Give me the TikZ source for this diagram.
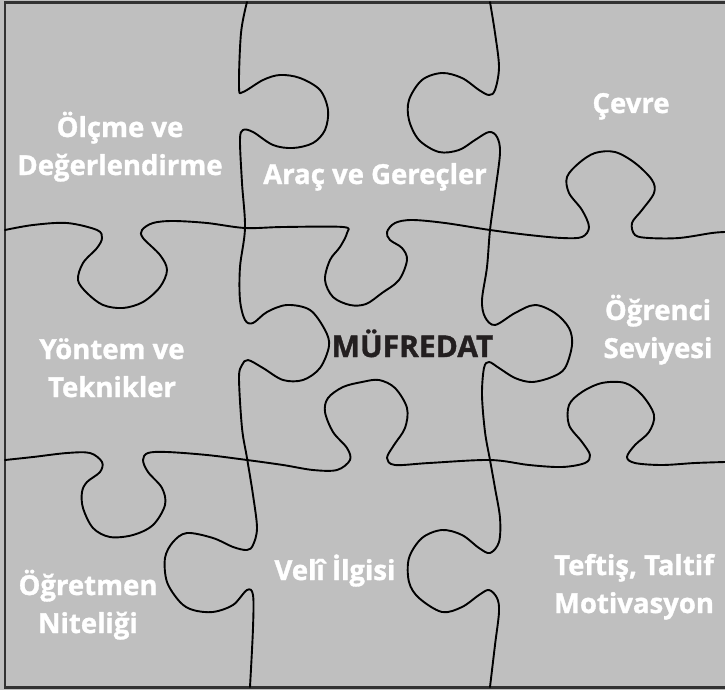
\documentclass[tikz,border=0pt]{standalone}
\usepackage{fontspec}
\setmainfont{Open Sans}[BoldFeatures={FakeBold=1.2}]
\begin{document}
\begin{tikzpicture}[x=1pt,y=-1pt,
  puzzle/.style={draw=black,line width=1.9pt,line join=round,line cap=round},
  label/.style={text=white,font=\bfseries\fontsize{27.5}{38}\selectfont,align=center,anchor=base,inner sep=0pt},
  core/.style={text=coretext,font=\bfseries\fontsize{30}{38}\selectfont,anchor=base,inner sep=0pt}]
\definecolor{bgray}{RGB}{191,191,191}
\definecolor{frame}{RGB}{50,50,50}
\definecolor{coretext}{RGB}{35,31,32}
\useasboundingbox (0,0) rectangle (725,690);
\fill[bgray] (0,0) rectangle (725,690);
\draw[frame,line width=2.2pt] (5,2.5) rectangle (726,687.5);
% left vertical
\draw[puzzle] plot[smooth,tension=0.55] coordinates {(247,2) (241,33) (239,87) (243,92) (263,80) (280,75) (300,78) (320,90) (328,110) (325,130) (313,143) (293,148) (273,145) (253,132) (243,130) (240,140) (242,183) (245,228) (240,267) (240,300) (245,320) (253,323) (267,312) (287,305) (310,310) (325,330) (329,346) (320,368) (303,380) (283,380) (263,368) (248,360) (242,365) (239,378) (242,428) (247,458) (253,495) (257,528) (253,545) (247,550) (233,547) (213,538) (187,533) (173,542) (165,558) (167,582) (180,602) (193,610) (213,612) (233,605) (247,590) (253,595) (253,628) (250,687)};
% right vertical
\draw[puzzle] plot[smooth,tension=0.55] coordinates {(490,2) (495,33) (499,67) (495,90) (489,95) (479,90) (462,78) (442,73) (422,80) (409,100) (409,120) (419,140) (439,152) (459,150) (475,140) (489,132) (497,137) (500,153) (495,193) (490,230) (487,267) (482,300) (485,317) (495,325) (515,313) (535,305) (555,313) (569,328) (572,345) (565,368) (552,377) (532,382) (515,378) (499,368) (489,362) (484,368) (482,395) (485,432) (490,460) (495,488) (500,518) (499,542) (490,553) (479,548) (462,535) (442,530) (422,538) (409,558) (409,582) (419,598) (442,612) (462,607) (479,595) (489,590) (497,598) (499,612) (495,645) (490,687)};
% upper horizontal
\draw[puzzle] plot[smooth,tension=0.55] coordinates {(5,230) (33,225) (67,223) (97,230) (102,238) (97,248) (83,263) (78,280) (87,293) (103,305) (123,308) (143,302) (160,287) (167,270) (160,255) (143,238) (142,230) (153,223) (173,221) (207,223) (245,228) (283,227) (343,227) (347,233) (340,247) (330,260) (325,280) (333,297) (350,305) (366,304) (382,293) (399,280) (407,260) (402,248) (390,240) (387,232) (395,223) (412,220) (445,223) (490,230) (529,235) (562,238) (582,237) (589,227) (582,210) (569,193) (567,177) (579,163) (595,153) (615,152) (635,163) (652,180) (654,193) (642,210) (632,223) (635,235) (649,238) (679,238) (712,233) (725,232)};
% lower horizontal
\draw[puzzle] plot[smooth,tension=0.55] coordinates {(5,460) (33,457) (67,453) (90,453) (102,462) (100,472) (87,482) (82,492) (83,508) (93,528) (110,537) (133,535) (153,525) (165,505) (162,488) (148,472) (143,460) (148,453) (167,452) (207,455) (247,460) (283,465) (313,470) (337,470) (350,460) (347,448) (333,432) (325,412) (328,398) (343,387) (362,382) (379,380) (395,388) (407,408) (405,428) (394,445) (387,458) (395,465) (429,463) (490,460) (529,465) (562,467) (585,463) (590,455) (582,442) (569,425) (569,405) (582,392) (602,383) (625,383) (642,395) (654,415) (649,432) (635,445) (627,457) (635,463) (662,465) (695,463) (725,462)};
% labels
\node[label] (olcme) at (120,175) {Ölçme ve\\Değerlendirme};
\node[label] (arac) at (375,184) {Araç ve Gereçler};
\node[label] (cevre) at (631,113) {Çevre};
\node[label] (ogrenci) at (658,358) {Öğrenci\\Seviyesi};
\node[core] (mufredat) at (412.5,357) {MÜFREDAT};
\node[label] (yontem) at (112,397) {Yöntem ve\\Teknikler};
\node[label] (ogretmen) at (88,633) {Öğretmen\\Niteliği};
\node[label] (veli) at (335,580) {Velî İlgisi};
\node[label] (teftis) at (634,613) {Teftiş, Taltif\\Motivasyon};
\end{tikzpicture}
\end{document}
